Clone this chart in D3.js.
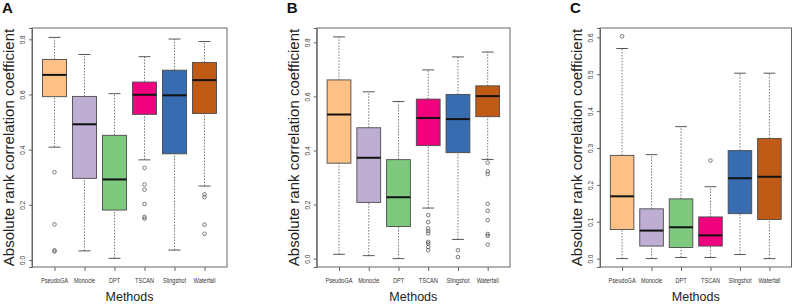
<!DOCTYPE html>
<html>
<head>
<meta charset="utf-8">
<script src="https://cdn.jsdelivr.net/npm/d3@7"></script>
<style>
body { margin: 0; background: #fff; }
svg { display: block; font-family: "Liberation Sans", Arial, sans-serif; }
</style>
</head>
<body>
<svg width="795" height="304"></svg>
<script>
const methods = ["PseudoGA", "Monocle", "DPT", "TSCAN", "Slingshot", "Waterfall"]
const colors = ["#FDC086", "#BEAED4", "#7FC97F", "#F0027F", "#386CB0", "#BF5B17"]

// [lower whisker, q1, median, q3, upper whisker]
const statsA = [
    [0.409, 0.592, 0.671, 0.727, 0.807],
    [0.033, 0.296, 0.492, 0.593, 0.745],
    [0.006, 0.181, 0.292, 0.452, 0.603],
    [0.363, 0.528, 0.599, 0.645, 0.737],
    [0.036, 0.385, 0.597, 0.688, 0.801],
    [0.268, 0.531, 0.652, 0.716, 0.792],
]
const outA = [
    [0.318, 0.129, 0.035, 0.031],
    [],
    [],
    [0.334, 0.274, 0.255, 0.203, 0.156, 0.150],
    [],
    [0.238, 0.228, 0.128, 0.095],
]

const statsB = [
    [0.016, 0.353, 0.533, 0.661, 0.820],
    [0.011, 0.208, 0.373, 0.484, 0.617],
    [0.000, 0.119, 0.227, 0.366, 0.581],
    [0.187, 0.418, 0.520, 0.590, 0.698],
    [0.071, 0.392, 0.516, 0.607, 0.746],
    [0.367, 0.525, 0.601, 0.639, 0.764],
]
const outB = [
    [],
    [],
    [],
    [0.161, 0.135, 0.112, 0.102, 0.093, 0.062, 0.056, 0.043, 0.031],
    [0.031, 0.006],
    [0.355, 0.323, 0.313, 0.203, 0.177, 0.142, 0.091, 0.084, 0.052],
]

const statsC = [
    [0.000, 0.079, 0.169, 0.280, 0.570],
    [0.000, 0.034, 0.076, 0.135, 0.282],
    [0.003, 0.030, 0.085, 0.162, 0.358],
    [0.003, 0.034, 0.063, 0.113, 0.195],
    [0.011, 0.122, 0.218, 0.293, 0.503],
    [0.000, 0.106, 0.222, 0.326, 0.503],
]
const outC = [
    [0.603],
    [],
    [],
    [0.266],
    [],
    [],
]

const ticksAB = [0, 0.2, 0.4, 0.6, 0.8]
const ticksC = [0, 0.1, 0.2, 0.3, 0.4, 0.5, 0.6]

const svg = d3.select("svg")
const top_y = 28
const bottom_y = 267

function draw_panel(letter, stats, outliers, ticks, domain, left, right) {
    const g = svg.append("g")

    const x = d3.scaleLinear().domain([0.25, 6.75]).range([left, right])
    const y = d3.scaleLinear().domain(domain).range([bottom_y, top_y])
    const step = x(2) - x(1)
    const bw = step * 0.8
    const cw = step * 0.4

    const boxes = g.selectAll("g.box")
        .data(stats)
        .enter()
        .append("g")
        .attr("class", "box")

    // whiskers
    boxes.append("line")
        .attr("x1", (d, i) => x(i + 1)).attr("x2", (d, i) => x(i + 1))
        .attr("y1", d => y(d[3])).attr("y2", d => y(d[4]))
        .attr("stroke", "#555").attr("stroke-width", 0.8).attr("stroke-dasharray", "1.5,1.5")
    boxes.append("line")
        .attr("x1", (d, i) => x(i + 1)).attr("x2", (d, i) => x(i + 1))
        .attr("y1", d => y(d[0])).attr("y2", d => y(d[1]))
        .attr("stroke", "#555").attr("stroke-width", 0.8).attr("stroke-dasharray", "1.5,1.5")

    // staples
    boxes.selectAll("line.cap")
        .data((d, i) => [[i, d[0]], [i, d[4]]])
        .enter()
        .append("line")
        .attr("class", "cap")
        .attr("x1", d => x(d[0] + 1) - cw / 2).attr("x2", d => x(d[0] + 1) + cw / 2)
        .attr("y1", d => y(d[1])).attr("y2", d => y(d[1]))
        .attr("stroke", "#444").attr("stroke-width", 0.9)

    boxes.append("rect")
        .attr("x", (d, i) => x(i + 1) - bw / 2)
        .attr("width", bw)
        .attr("y", d => y(d[3]))
        .attr("height", d => y(d[1]) - y(d[3]))
        .attr("fill", (d, i) => colors[i])
        .attr("stroke", "#4a4a4a").attr("stroke-width", 0.9)

    boxes.append("line")
        .attr("x1", (d, i) => x(i + 1) - bw / 2).attr("x2", (d, i) => x(i + 1) + bw / 2)
        .attr("y1", d => y(d[2])).attr("y2", d => y(d[2]))
        .attr("stroke", "#111").attr("stroke-width", 2)

    // outliers
    const pts = outliers.flatMap((o, i) => o.map(v => [i, v]))
    g.selectAll("circle")
        .data(pts)
        .enter()
        .append("circle")
        .attr("cx", d => x(d[0] + 1))
        .attr("cy", d => y(d[1]))
        .attr("r", 1.8)
        .attr("fill", "none")
        .attr("stroke", "#444").attr("stroke-width", 0.7)

    // frame
    g.append("rect")
        .attr("x", left).attr("y", top_y)
        .attr("width", right - left).attr("height", bottom_y - top_y)
        .attr("fill", "none").attr("stroke", "#666").attr("stroke-width", 1)

    // y axis
    const ya = g.append("g")
        .attr("transform", `translate(${left},0)`)
        .call(d3.axisLeft(y).tickValues(ticks).tickSize(3).tickPadding(2).tickFormat(d3.format(".1f")))
    ya.select(".domain").attr("stroke", "#666")
    ya.selectAll(".tick line").attr("stroke", "#666")
    ya.selectAll(".tick text")
        .attr("font-size", 6.5)
        .attr("fill", "#333")
        .attr("font-family", "Liberation Sans, Arial, sans-serif")
        .attr("text-anchor", "middle")
        .attr("x", -7)
        .attr("dy", 0)
        .attr("transform", "rotate(-90,-7,0)")
        .attr("y", 0)

    // x axis
    const xa = g.append("g")
        .attr("transform", `translate(0,${bottom_y})`)
        .call(d3.axisBottom(x).tickValues(d3.range(1, 7)).tickSize(4).tickFormat(""))
    xa.select(".domain").remove()
    xa.selectAll(".tick line").attr("stroke", "#666")

    g.selectAll("text.xlab")
        .data(methods)
        .enter()
        .append("text")
        .attr("class", "xlab")
        .attr("transform", (d, i) => `translate(${x(i + 1)},282.5) scale(0.8,1)`)
        .attr("text-anchor", "middle")
        .attr("font-size", 7)
        .attr("fill", "#333")
        .text(d => d)

    g.append("text")
        .attr("x", (left + right) / 2)
        .attr("y", 301)
        .attr("text-anchor", "middle")
        .attr("font-size", 12.5)
        .attr("fill", "#222")
        .text("Methods")

    g.append("text")
        .attr("transform", `translate(${left - 18},${(top_y + bottom_y) / 2}) rotate(-90)`)
        .attr("text-anchor", "middle")
        .attr("font-size", 15)
        .attr("fill", "#222")
        .text("Absolute rank correlation coefficient")

    g.append("text")
        .attr("x", left - 30)
        .attr("y", 13)
        .attr("font-size", 15)
        .attr("font-weight", "bold")
        .attr("fill", "#111")
        .text(letter)
}

draw_panel("A", statsA, outA, ticksAB, [-0.0254, 0.841], 32, 227)
draw_panel("B", statsB, outB, ticksAB, [-0.031, 0.853], 316.7, 510)
draw_panel("C", statsC, outC, ticksC, [-0.0228, 0.6256], 600, 791.5)
</script>
</body>
</html>
